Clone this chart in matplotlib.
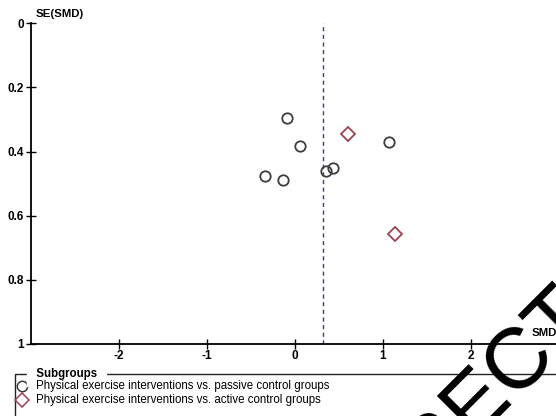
import matplotlib.pyplot as plt
from matplotlib.patches import Rectangle

plt.rcParams['font.family'] = ['Liberation Sans', 'DejaVu Sans']
plt.rcParams['axes.unicode_minus'] = False

# funnel plot data
smd_passive = [-0.085, 0.066, -0.335, -0.127, 0.358, 0.437, 1.074]
se_passive = [0.296, 0.384, 0.477, 0.490, 0.461, 0.450, 0.369]
smd_active = [0.605, 1.145]
se_active = [0.346, 0.656]
pooled_smd = 0.32

x_ticks = [-2, -1, 0, 1, 2]
y_ticks = [0, 0.2, 0.4, 0.6, 0.8, 1]
y_labels = ['0', '0.2', '0.4', '0.6', '0.8', '1']
legend_labels = ['Physical exercise interventions vs. passive control groups',
                 'Physical exercise interventions vs. active control groups']

W, H = 556, 416
fig = plt.figure(figsize=(W / 100, H / 100), dpi=100)
ax = fig.add_axes([30.5 / W, 1 - 344 / H, 528 / W, (344 - 23.3) / H])

ax.axvline(pooled_smd, color='#3b3b8f', lw=1, ls=(0, (3, 2.5)), zorder=1)
ax.plot(smd_passive, se_passive, 'o', ms=7.5, mfc='none', mec='#3c3c3c', mew=1.3, zorder=3)
ax.plot(smd_active, se_active, 'D', ms=7, mfc='none', mec='#a0404f', mew=1.3, zorder=3)

ax.set_xlim(-3, 3)
ax.set_ylim(1, 0)
ax.set_xticks(x_ticks)
ax.set_yticks(y_ticks)
ax.set_yticklabels(y_labels)
for s in ['top', 'right']:
    ax.spines[s].set_visible(False)
for s in ['left', 'bottom']:
    ax.spines[s].set_linewidth(1.3)
ax.tick_params(direction='inout', length=7, width=1, labelsize=8.5, pad=1)
for lbl in ax.get_xticklabels() + ax.get_yticklabels():
    lbl.set_fontweight('bold')
ax.text(36 / W, 1 - 14 / H, 'SE(SMD)', transform=fig.transFigure, fontsize=8.2,
        fontweight='bold', va='center')

# legend box
lg = fig.add_axes([0, 0, 1, 1], zorder=5)
lg.set_xlim(0, W)
lg.set_ylim(H, 0)
lg.axis('off')
lg.patch.set_alpha(0)
lg.add_patch(Rectangle((15, 374), 560, 60, fill=False, lw=1, ec='#222222'))
lg.text(33, 374, ' Subgroups ', fontsize=8.3, fontweight='bold', va='center',
        backgroundcolor='white')
lg.plot([22], [386], 'o', ms=7.5, mfc='none', mec='#3c3c3c', mew=1.1)
lg.plot([22], [400], 'D', ms=7, mfc='none', mec='#a0404f', mew=1.1)
lg.text(36, 386, legend_labels[0], fontsize=8.3, va='center')
lg.text(36, 400, legend_labels[1], fontsize=8.3, va='center')

# proof watermark across the lower right corner
lg.text(278, 603, 'CORRECTED', fontsize=62, color='black', rotation=45,
        rotation_mode='anchor', ha='left', va='center', zorder=10)
lg.text(532, 333, 'SMD', fontsize=8.2, fontweight='bold', va='center', zorder=11)

fig.savefig('out.png', dpi=100)
